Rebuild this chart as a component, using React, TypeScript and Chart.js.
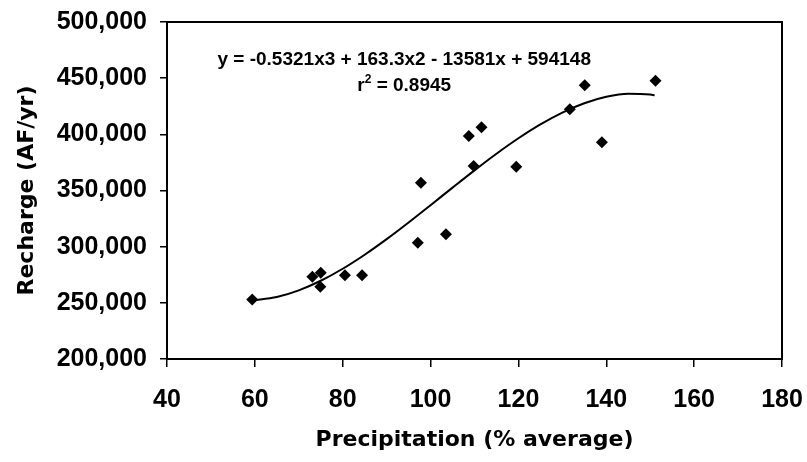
import React, { useEffect, useRef } from "react";
import { Chart, registerables } from "chart.js";

Chart.register(...registerables);

// Observed data: precipitation (% of average) vs recharge (AF/yr)
const precipitation = [59.4, 73.1, 75.0, 74.9, 80.5, 84.4, 97.1, 103.5, 97.8, 109.8, 108.7, 111.6, 119.5, 131.7, 135.1, 139.0, 151.2];
const recharge = [253000, 273300, 276800, 264400, 274500, 274500, 303500, 311000, 357000, 371800, 398500, 406200, 371200, 422300, 443600, 392900, 447800];

// Trend line samples
const trendX = [59.4, 65, 70, 75, 80, 85, 90, 95, 100, 105, 110, 115, 120, 125, 130, 135, 140, 145, 150, 151];
const trendY = [252100, 255198, 261138, 269656, 280353, 292830, 306687, 321527, 336948, 352554, 367943, 382718, 396479, 408828, 419364, 427690, 433406, 436113, 435410, 434826];

const xTicks = [40, 60, 80, 100, 120, 140, 160, 180];
const yTicks = [200000, 250000, 300000, 350000, 400000, 450000, 500000];

const equationText = "y = -0.5321x3 + 163.3x2 - 13581x + 594148";
const r2Value = "0.8945";
const xTitle = "Precipitation (% average)";
const yTitle = "Recharge (AF/yr)";

const TXT = "'Liberation Sans', Arial, sans-serif";

export default function App() {
  const ref = useRef<HTMLCanvasElement | null>(null);

  useEffect(() => {
    const canvas = ref.current;
    if (!canvas) return;

    const framePlugin = {
      id: "frameAndText",
      afterDatasetsDraw(chart: any) {
        const { ctx, chartArea } = chart;
        ctx.save();
        ctx.strokeStyle = "#000";
        ctx.lineWidth = 2;
        ctx.strokeRect(chartArea.left, chartArea.top, chartArea.right - chartArea.left, chartArea.bottom - chartArea.top);

        const xs = chart.scales.x;
        const ys = chart.scales.y;
        const cx = xs.getPixelForValue(94);
        ctx.fillStyle = "#000";
        ctx.textBaseline = "middle";
        ctx.textAlign = "center";
        ctx.font = `bold 19px ${TXT}`;
        ctx.fillText(equationText, cx, ys.getPixelForValue(466500));

        // r² line
        const yR = ys.getPixelForValue(443000);
        const rest = " = " + r2Value;
        const wR = ctx.measureText("r").width;
        ctx.font = `bold 12px ${TXT}`;
        const wS = ctx.measureText("2").width;
        ctx.font = `bold 19px ${TXT}`;
        const wRest = ctx.measureText(rest).width;
        const total = wR + wS + wRest;
        let sx = cx - total / 2;
        ctx.textAlign = "left";
        ctx.fillText("r", sx, yR);
        sx += wR;
        ctx.font = `bold 12px ${TXT}`;
        ctx.fillText("2", sx, yR - 6);
        sx += wS;
        ctx.font = `bold 19px ${TXT}`;
        ctx.fillText(rest, sx, yR);
        ctx.restore();
      },
    };

    const chart = new Chart(canvas, {
      type: "scatter",
      data: {
        datasets: [
          {
            label: "Observed",
            data: precipitation.map((x, i) => ({ x, y: recharge[i] })),
            pointStyle: "rectRot",
            pointRadius: 6,
            pointHoverRadius: 6,
            backgroundColor: "#000",
            borderColor: "#000",
            borderWidth: 0,
            showLine: false,
            order: 0,
          },
          {
            label: "Trend",
            data: trendX.map((x, i) => ({ x, y: trendY[i] })),
            showLine: true,
            pointRadius: 0,
            borderColor: "#000",
            borderWidth: 2,
            tension: 0.4,
            cubicInterpolationMode: "monotone",
            fill: false,
            order: 1,
          },
        ],
      },
      options: {
        responsive: false,
        animation: false,
        devicePixelRatio: 1,
        layout: { padding: { top: 22, right: 25, left: 0, bottom: 0 } },
        plugins: {
          legend: { display: false },
          tooltip: { enabled: false },
        },
        scales: {
          x: {
            type: "linear",
            min: 40,
            max: 180,
            afterBuildTicks: (scale: any) => {
              scale.ticks = xTicks.map((v) => ({ value: v }));
            },
            afterFit: (scale: any) => {
              scale.height = 103;
              scale.paddingLeft = 0;
              scale.paddingRight = 0;
            },
            ticks: {
              color: "#000",
              font: { family: TXT, size: 25, weight: "bold" },
              padding: 18,
              maxRotation: 0,
            },
            grid: {
              display: true,
              drawOnChartArea: false,
              drawTicks: true,
              tickLength: 8,
              color: "#000",
              lineWidth: 1.5,
            },
            border: { display: true, color: "#000", width: 2 },
            title: {
              display: true,
              text: xTitle,
              color: "#000",
              font: { family: "'DejaVu Sans', Verdana, sans-serif", size: 22, weight: "bold" },
              padding: { top: 0, bottom: 9 },
            },
          },
          y: {
            type: "linear",
            min: 200000,
            max: 500000,
            afterBuildTicks: (scale: any) => {
              scale.ticks = yTicks.map((v) => ({ value: v }));
            },
            afterFit: (scale: any) => {
              scale.width = 167;
              scale.paddingTop = 0;
              scale.paddingBottom = 0;
            },
            ticks: {
              color: "#000",
              font: { family: TXT, size: 25, weight: "bold" },
              padding: 13,
              callback: (v: any) => Number(v).toLocaleString("en-US"),
            },
            grid: {
              display: true,
              drawOnChartArea: false,
              drawTicks: true,
              tickLength: 7,
              color: "#000",
              lineWidth: 1.5,
            },
            border: { display: true, color: "#000", width: 2 },
            title: {
              display: true,
              text: yTitle,
              color: "#000",
              font: { family: "'DejaVu Sans', Verdana, sans-serif", size: 22, weight: "bold" },
              padding: { top: 14, bottom: 0 },
            },
          },
        },
      },
      plugins: [framePlugin],
    } as any);

    return () => chart.destroy();
  }, []);

  return (
    <div style={{ position: "absolute", left: 0, top: 0, width: 807, height: 462, background: "#fff" }}>
      <canvas ref={ref} width={807} height={462} style={{ display: "block" }} />
    </div>
  );
}
